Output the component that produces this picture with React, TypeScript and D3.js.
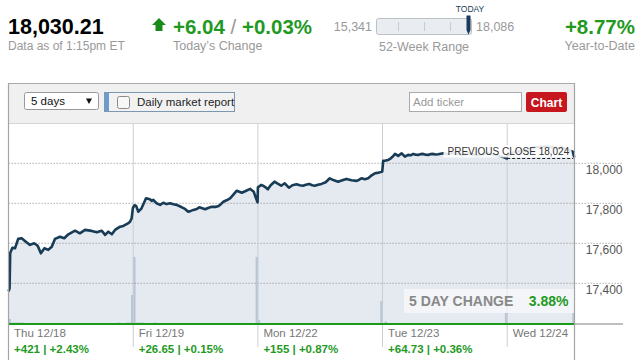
import React from 'react';
import * as d3 from 'd3';

// ---- data ----
const quoteLast = '18,030.21';
const quoteAsOf = 'Data as of 1:15pm ET';
const todayChange = '+6.04';
const todayChangePct = '+0.03%';
const weekLow = '15,341';
const weekHigh = '18,086';
const ytdChange = '+8.77%';

const dayLabels = ['Thu 12/18', 'Fri 12/19', 'Mon 12/22', 'Tue 12/23', 'Wed 12/24'];
const dayChanges = ['+421 | +2.43%', '+26.65 | +0.15%', '+155 | +0.87%', '+64.73 | +0.36%', ''];
const yTicks = [17400, 17600, 17800, 18000];
const previousClose = 18024;
const fiveDayChange = '3.88%';

// [minute of session, index value]
const thuPrices: [number, number][] = [[0,17360],[3,17375],[5,17552],[12,17578],[20,17575],[30,17622],[41,17625],[51,17612],[67,17592],[80,17600],[91,17588],[101,17550],[112,17575],[124,17567],[135,17583],[145,17622],[161,17633],[174,17625],[187,17645],[208,17663],[223,17650],[239,17667],[260,17662],[276,17655],[291,17663],[302,17642],[312,17658],[323,17645],[333,17667],[349,17683],[359,17687],[372,17698],[380,17708],[385,17725],[389,17778]];
const friPrices: [number, number][] = [[0,17780],[4,17790],[9,17787],[16,17758],[26,17775],[33,17800],[40,17825],[52,17820],[58,17812],[63,17817],[73,17800],[84,17792],[94,17803],[104,17796],[115,17800],[126,17795],[136,17792],[152,17780],[162,17772],[172,17758],[180,17762],[188,17767],[199,17772],[207,17780],[216,17775],[225,17770],[236,17778],[246,17783],[257,17782],[267,17787],[275,17797],[282,17808],[292,17815],[303,17825],[314,17845],[324,17863],[332,17858],[340,17853],[350,17860],[366,17872],[377,17858],[383,17830],[389,17805]];
const monPrices: [number, number][] = [[0,17880],[3,17883],[10,17892],[16,17888],[24,17880],[31,17870],[40,17890],[52,17908],[62,17898],[73,17888],[84,17900],[97,17878],[108,17890],[121,17895],[131,17890],[141,17888],[150,17893],[160,17897],[170,17890],[178,17888],[188,17893],[199,17897],[212,17905],[225,17925],[238,17915],[251,17908],[264,17915],[277,17922],[293,17915],[309,17912],[317,17918],[324,17925],[335,17920],[345,17925],[356,17940],[366,17950],[374,17952],[382,17955],[389,17959]];
const tuePrices: [number, number][] = [[0,17975],[2,18012],[7,18013],[18,18017],[26,18025],[33,18035],[39,18047],[49,18037],[60,18050],[70,18033],[80,18042],[88,18040],[96,18047],[104,18043],[112,18042],[120,18046],[127,18047],[135,18043],[143,18042],[151,18046],[159,18047],[166,18044],[174,18045],[182,18048],[190,18050],[205,18045],[220,18052],[235,18048],[250,18042],[265,18050],[280,18046],[295,18040],[310,18044],[325,18050],[340,18046],[355,18040],[370,18035],[380,18030],[389,18024]];
const wedPrices: [number, number][] = [[0,18035],[10,18045],[20,18055],[30,18058],[40,18062],[50,18060],[60,18068],[70,18072],[80,18078],[90,18080],[100,18083],[110,18081],[120,18085],[130,18082],[140,18080],[150,18077],[160,18075],[170,18078],[180,18072],[190,18068],[200,18062],[205,18058],[210,18030]];

// [day index, minute, volume]
const volumeBars: [number, number, number][] = [
  [0,3,5],[0,12,1.5],[0,20,1.5],[0,28,1.5],[0,36,1.5],[0,44,1.5],[0,345,1.5],[0,372,1.5],[0,380,1.5],[0,387,29],
  [1,3,67],[1,12,1.5],[1,20,1.5],[1,28,1.5],[1,68,1.5],[1,387,67],
  [2,3,4],[2,387,23],
  [3,10,2.3],[3,387,11],
  [4,208,11],
];

const sessionMinutes = 390;
const totalMinutes = 4 * 390 + 210;

export default function App() {
  const W = 643, H = 364;
  const plotL = 8.6, plotR = 574.3, plotT = 123.5, baseY = 324;
  const x = d3.scaleLinear().domain([0, totalMinutes]).range([plotL, plotR]);
  const y = d3.scaleLinear().domain([17400, 18000]).range([283.3, 163.3]);
  const vol = d3.scaleLinear().domain([0, 67]).range([0, 67]);

  const days = [thuPrices, friPrices, monPrices, tuePrices, wedPrices];
  const series: [number, number][] = [];
  days.forEach((d, i) => d.forEach(([m, v]) => series.push([i * sessionMinutes + m, v])));

  const line = d3.line<[number, number]>().x(d => x(d[0])).y(d => y(d[1]));
  const area = d3.area<[number, number]>().x(d => x(d[0])).y0(baseY).y1(d => y(d[1]));

  const green = '#1f9a1f';
  const font = "'Liberation Sans', Arial, sans-serif";
  const dayStartsX = [0, 1, 2, 3, 4].map(i => x(i * sessionMinutes));

  return (
    <svg width={W} height={H} style={{ position: 'absolute', left: 0, top: 0 }} fontFamily={font}>
      <rect x={0} y={0} width={W} height={H} fill="#fff" />
      {/* Header */}
      <text x={8} y={34} fontSize={21.5} fontWeight="bold" fill="#000">{quoteLast}</text>
      <text x={8} y={50} fontSize={12} fill="#999">{quoteAsOf}</text>
      <path d="M152,25 L159,18 L166,25 L162.5,25 L162.5,31 L155.5,31 L155.5,25 Z" fill="#1a8a1a" />
      <text x={173} y={33.5} fontSize={20.5} fontWeight="bold" fill={green}>
        {todayChange}<tspan fill="#999" fontWeight="normal"> / </tspan>{todayChangePct}
      </text>
      <text x={173} y={50} fontSize={12.5} fill="#999">Today’s Change</text>
      <text x={372} y={30.5} fontSize={12.5} fill="#999" textAnchor="end">{weekLow}</text>
      <rect x={376.5} y={18.5} width={95} height={16} rx={2} fill="#e9edf1" stroke="#bcc1c6" />
      {[398.5, 424.5, 450.5].map(t => <line key={t} x1={t} x2={t} y1={22} y2={31} stroke="#c6cbd0" />)}
      <path d="M466.5,15.5 L470.5,15.5 L470.5,30 L468.5,34.5 L466.5,30 Z" fill="#1a3a5a" />
      <text x={470} y={12} fontSize={8.5} fill="#1a3a52" textAnchor="middle">TODAY</text>
      <text x={476} y={30.5} fontSize={12.5} fill="#999">{weekHigh}</text>
      <text x={424} y={51} fontSize={12.5} fill="#999" textAnchor="middle">52-Week Range</text>
      <text x={635} y={33.5} fontSize={20.5} fontWeight="bold" fill={green} textAnchor="end">{ytdChange}</text>
      <text x={635} y={50} fontSize={12.5} fill="#999" textAnchor="end">Year-to-Date</text>

      {/* Toolbar */}
      <rect x={8.5} y={83.5} width={566} height={40} fill="#f0f0f0" stroke="#aaa" />
      <rect x={24.5} y={92.5} width={74} height={17} rx={2} fill="#fff" stroke="#999" />
      <text x={31} y={105} fontSize={11.5} fill="#111">5 days</text>
      <path d="M86,98.5 L92,98.5 L89,104 Z" fill="#111" />
      <rect x={104.5} y={92.5} width={130} height={19} fill="#f2f2f2" stroke="#7d97b0" />
      <rect x={105} y={93} width={4} height={18} fill="#6a9ccf" />
      <rect x={117.5} y={96.5} width={12} height={12} rx={2} fill="#f7f7f7" stroke="#8a8a8a" />
      <text x={137} y={106} fontSize={11.5} fill="#222">Daily market report</text>
      <rect x={409.5} y={92.5} width={112} height={19} fill="#fff" stroke="#aaa" />
      <text x={413} y={106} fontSize={11.5} fill="#999">Add ticker</text>
      <rect x={526} y={92} width={41} height={20} rx={2} fill="#c8161e" />
      <text x={546.5} y={106.5} fontSize={12} fontWeight="bold" fill="#fff" textAnchor="middle">Chart</text>

      {/* Plot */}
      <rect x={plotL} y={plotT} width={plotR - plotL} height={baseY - plotT} fill="#fff" />
      <path d={area(series) || ''} fill="#e5e9f0" />
      {volumeBars.map(([di, m, v], i) => {
        const cx = x(di * sessionMinutes + m);
        return <rect key={i} x={cx - 1.3} y={baseY - vol(v)} width={2.6} height={vol(v)} fill="#b7c6d5" />;
      })}
      {yTicks.map(t => (
        <g key={t}>
          <line x1={plotL} x2={623} y1={y(t)} y2={y(t)} stroke="#8a8a8a" strokeDasharray="1,2" />
          <text x={622.5} y={y(t) + 10.7} fontSize={12} fill="#555" textAnchor="end">{d3.format(',')(t)}</text>
        </g>
      ))}
      {dayStartsX.slice(1).map((dx, i) => (
        <line key={i} x1={dx} x2={dx} y1={plotT} y2={347} stroke="#c9ced6" />
      ))}
      <path d={line(series) || ''} fill="none" stroke="#183b56" strokeWidth={2.6} strokeLinejoin="round" />

      {/* previous close */}
      <rect x={443.5} y={145} width={128} height={12.5} fill="#fff" opacity={0.88} />
      <text x={447.5} y={155} fontSize={10} fill="#333">PREVIOUS CLOSE {d3.format(',')(previousClose)}</text>
      <line x1={x(4 * sessionMinutes)} x2={plotR - 1} y1={y(previousClose)} y2={y(previousClose)} stroke="#222" strokeDasharray="3,2" />

      {/* 5 day change */}
      <rect x={404} y={289} width={170} height={24} fill="#fff" opacity={0.55} />
      <text x={409} y={306} fontSize={14} fontWeight="bold" fill="#888">5 DAY CHANGE</text>
      <text x={568.5} y={306} fontSize={14} fontWeight="bold" fill={green} textAnchor="end">{fiveDayChange}</text>

      {/* baseline */}
      <line x1={plotL} x2={plotR} y1={baseY} y2={baseY} stroke="#1a9a1a" strokeWidth={2} />
      <line x1={plotR} x2={623} y1={baseY} y2={baseY} stroke="#a8a8a8" strokeWidth={1.5} />

      {/* borders */}
      <line x1={8.5} x2={8.5} y1={83} y2={360} stroke="#a5a5a5" strokeWidth={1.2} />
      <line x1={574.5} x2={574.5} y1={83} y2={360} stroke="#a5a5a5" strokeWidth={1.2} />

      {/* day labels */}
      {dayLabels.map((lab, i) => (
        <g key={lab}>
          <text x={dayStartsX[i] + 5.5} y={337} fontSize={11.5} fill="#777">{lab}</text>
          <text x={dayStartsX[i] + 5.5} y={353} fontSize={11.5} fontWeight="bold" fill={green}>{dayChanges[i]}</text>
        </g>
      ))}
    </svg>
  );
}
